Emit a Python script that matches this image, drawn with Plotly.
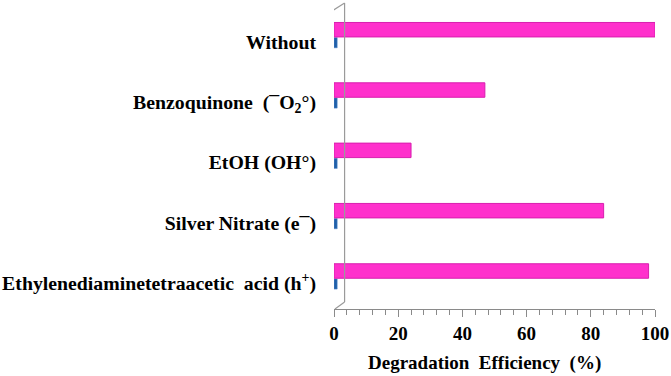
import plotly.graph_objects as go

# Data (bottom to top)
categories = ["EDTA", "Silver Nitrate", "EtOH", "Benzoquinone", "Without"]
tick_labels = [
    "Ethylenediaminetetraacetic  acid (h<sup>+</sup>)",
    "Silver Nitrate (e¯)",
    "EtOH (OH°)",
    "Benzoquinone  (¯O<sub>2</sub>°)",
    "Without",
]
efficiency = [98, 84, 24, 47, 100]
secondary = [1, 1, 1, 1, 1]
x_title = "Degradation  Efficiency  (%)"

FONT = "Liberation Serif"

fig = go.Figure()
fig.add_trace(go.Bar(
    y=categories, x=secondary, orientation="h",
    marker=dict(color="#1f5fa8", line=dict(color="#5b8fd0", width=0.5)),
    width=0.17, offset=-0.1, cliponaxis=False, showlegend=False,
))
fig.add_trace(go.Bar(
    y=categories, x=efficiency, orientation="h",
    marker=dict(color="#ff30cc", line=dict(color="#d81fae", width=1)),
    width=0.24, offset=0.08, cliponaxis=False, showlegend=False,
))

# 3D wall outline
wall = dict(color="#9a9a9a", width=1.2)
fig.add_shape(type="line", xref="x", yref="paper", x0=-0.2, x1=-0.2, y0=-0.003, y1=0.993, line=wall)
fig.add_shape(type="line", xref="x", yref="paper", x0=3.3, x1=3.3, y0=0.023, y1=1.017, line=wall)
fig.add_shape(type="line", xref="x", yref="paper", x0=-0.2, x1=3.3, y0=0.993, y1=1.017, line=wall)
fig.add_shape(type="line", xref="x", yref="paper", x0=3.3, x1=0.3, y0=0.023, y1=0.0, line=wall)

fig.add_annotation(
    text=x_title, xref="paper", yref="paper", x=0.47, y=-0.179,
    showarrow=False, xanchor="center", yanchor="middle",
    font=dict(family=FONT, size=19, color="black", weight="bold"),
)

fig.update_layout(
    width=671, height=376,
    margin=dict(l=334, r=16, t=8, b=67),
    plot_bgcolor="white", paper_bgcolor="white",
    barmode="overlay",
    font=dict(family=FONT, color="black"),
    xaxis=dict(
        range=[0, 100], dtick=20, showgrid=False, zeroline=False,
        showline=True, linecolor="#8a8a8a", linewidth=1.2, automargin=False,
        ticks="outside", ticklen=7, tickcolor="#8a8a8a", tickwidth=1.2,
        minor=dict(dtick=4, ticks="outside", ticklen=5, tickcolor="#8a8a8a", tickwidth=1),
        tickfont=dict(family=FONT, size=19, color="black", weight="bold"),
    ),
    yaxis=dict(
        range=[-0.43, 4.56], showgrid=False, zeroline=False, showline=False,
        tickmode="array", tickvals=categories, ticktext=tick_labels,
        ticks="", ticklabelstandoff=17, automargin=False,
        tickfont=dict(family=FONT, size=19.8, color="black", weight="bold"),
    ),
)

fig.write_html(
    "out.html",
    config={"displayModeBar": False},
    post_script="document.body.style.margin='0';document.body.style.overflow='hidden';",
)
